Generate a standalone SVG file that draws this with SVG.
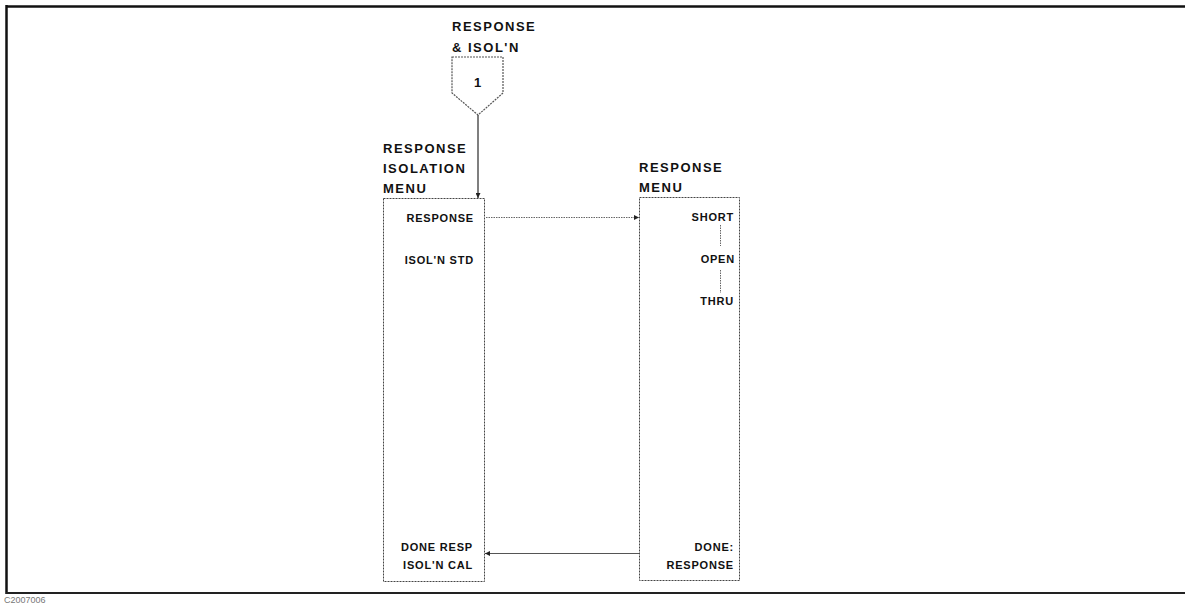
<svg xmlns="http://www.w3.org/2000/svg" width="1186" height="605" viewBox="0 0 1186 605">
<style>
.hdr{font-family:"Liberation Sans",Arial,sans-serif;font-size:13px;font-weight:bold;letter-spacing:1.5px;fill:#111}
.itm{font-family:"Liberation Sans",Arial,sans-serif;font-size:11px;font-weight:bold;letter-spacing:0.8px;fill:#111}
.box{fill:none;stroke:#444;stroke-width:1;stroke-dasharray:2 1}
.conn{fill:none;stroke:#555;stroke-width:1}
.dot{fill:none;stroke:#666;stroke-width:1;stroke-dasharray:1.5 1}
</style>
<defs>
<marker id="ah" viewBox="0 0 10 10" refX="10" refY="5" markerWidth="8" markerHeight="5" markerUnits="userSpaceOnUse" orient="auto">
<path d="M0,0 L10,5 L0,10 z" fill="#222"/>
</marker>
</defs>
<rect width="1186" height="605" fill="#fff"/>
<g id="frame">
<line x1="6" y1="6.5" x2="1185" y2="6.5" stroke="#111" stroke-width="2.5"/>
<line x1="6.5" y1="5" x2="6.5" y2="594" stroke="#111" stroke-width="2.5"/>
<line x1="6" y1="593" x2="1185" y2="593" stroke="#222" stroke-width="2"/>
<text x="4" y="603" style="font-family:'Liberation Sans',Arial,sans-serif;font-size:9px;fill:#777">C2007006</text>
</g>
<g id="start">
<text class="hdr" x="452" y="31">RESPONSE</text>
<text class="hdr" x="452" y="52">&amp; ISOL'N</text>
<polygon points="452,57 503,57 503,93 478,115 452,93" fill="none" stroke="#555" stroke-width="1.2" stroke-dasharray="2 1"/>
<text class="itm" x="478" y="87" text-anchor="middle" style="font-size:13px">1</text>
</g>
<g id="response-isolation-menu">
<text class="hdr" x="383" y="153">RESPONSE</text>
<text class="hdr" x="383" y="173">ISOLATION</text>
<text class="hdr" x="383" y="193">MENU</text>
<rect class="box" x="383.5" y="198.5" width="101" height="383"/>
<text class="itm" x="474" y="222" text-anchor="end">RESPONSE</text>
<text class="itm" x="474" y="264" text-anchor="end">ISOL'N STD</text>
<text class="itm" x="473" y="551" text-anchor="end">DONE RESP</text>
<text class="itm" x="473" y="569" text-anchor="end">ISOL'N CAL</text>
</g>
<g id="response-menu">
<text class="hdr" x="639" y="172">RESPONSE</text>
<text class="hdr" x="639" y="192">MENU</text>
<rect class="box" x="639.5" y="197.5" width="100" height="383"/>
<text class="itm" x="734" y="221" text-anchor="end">SHORT</text>
<line class="dot" x1="720.5" y1="225" x2="720.5" y2="246"/>
<text class="itm" x="735" y="263" text-anchor="end">OPEN</text>
<line class="dot" x1="720.5" y1="270" x2="720.5" y2="293"/>
<text class="itm" x="734" y="305" text-anchor="end">THRU</text>
<text class="itm" x="734" y="551" text-anchor="end">DONE:</text>
<text class="itm" x="734" y="569" text-anchor="end">RESPONSE</text>
</g>
<g id="connectors">
<line x1="478" y1="115" x2="478" y2="198" stroke="#555" stroke-width="1.5" marker-end="url(#ah)"/>
<line class="dot" x1="486" y1="217.5" x2="639" y2="217.5" marker-end="url(#ah)"/>
<line class="conn" x1="639" y1="553.5" x2="485" y2="553.5" marker-end="url(#ah)"/>
</g>
</svg>
